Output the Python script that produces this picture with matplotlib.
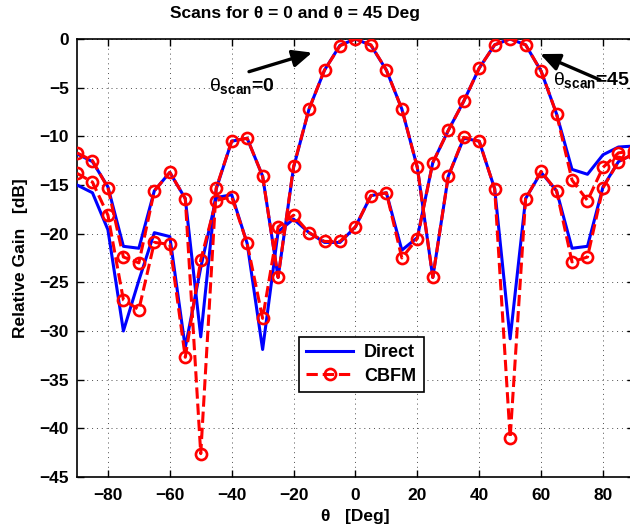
import numpy as np
import matplotlib
matplotlib.use("Agg")
import matplotlib.pyplot as plt

plt.rcParams["font.family"] = ["Liberation Sans", "DejaVu Sans"]
plt.rcParams["mathtext.fontset"] = "custom"
plt.rcParams["mathtext.rm"] = "Liberation Sans"
plt.rcParams["mathtext.it"] = "Liberation Sans"
plt.rcParams["mathtext.bf"] = "Liberation Sans:bold"

# angles in degrees, one sample every 5 deg
theta = np.arange(-90, 91, 5)

# scan at theta = 0
scan0_direct = [
    -11.8, -12.6, -15.2, -21.3, -21.5, -15.6, -13.7, -16.4, -30.6, -15.4,
    -10.5, -10.2, -14.1, -24.5, -13.2, -7.2, -3.2, -0.65, 0.0, -0.65,
    -3.2, -7.2, -13.2, -24.5, -14.1, -10.2, -10.5, -15.4, -30.8, -16.4,
    -13.7, -15.6, -21.5, -21.3, -15.2, -12.6, -11.8,
]
scan0_cbfm = [
    -11.7, -12.5, -15.3, -22.4, -23.0, -15.6, -13.7, -16.4, -42.6, -15.3,
    -10.5, -10.2, -14.1, -24.5, -13.1, -7.2, -3.2, -0.7, 0.0, -0.6,
    -3.2, -7.2, -13.2, -24.5, -14.1, -10.1, -10.5, -15.4, -41.0, -16.4,
    -13.6, -15.6, -22.9, -22.4, -15.3, -12.6, -11.8,
]

# scan at theta = 45
scan45_direct = [
    -15.0, -15.8, -19.6, -30.0, -24.8, -19.9, -20.3, -31.7, -23.5, -16.3,
    -16.0, -21.0, -31.9, -19.8, -18.5, -19.9, -20.9, -20.9, -19.3, -16.1,
    -15.8, -21.7, -20.4, -12.7, -9.4, -6.4, -3.0, -0.6, 0.0, -0.6,
    -3.3, -7.7, -13.4, -13.9, -11.9, -11.1, -11.0,
]
scan45_cbfm = [
    -13.8, -14.7, -18.1, -26.8, -27.8, -20.9, -21.1, -32.7, -22.7, -16.6,
    -16.2, -21.0, -28.7, -19.3, -18.1, -19.9, -20.8, -20.8, -19.3, -16.1,
    -15.8, -22.5, -20.5, -12.7, -9.4, -6.4, -3.0, -0.6, 0.0, -0.6,
    -3.3, -7.7, -14.5, -16.6, -13.2, -11.7, -11.5,
]

fig = plt.figure(figsize=(6.30, 5.31), dpi=100)
ax = fig.add_axes([0.1222, 0.1017, 0.884, 0.8249])

blue_kw = dict(color="#0000ff", lw=2.2, zorder=3)
red_kw = dict(color="#ff0000", lw=2.2, ls="--", marker="o", ms=8,
              mfc="none", mew=1.9, zorder=4)

ax.plot(theta, scan0_direct, label="Direct", **blue_kw)
ax.plot(theta, scan45_direct, **blue_kw)
ax.plot(theta, scan0_cbfm, label="CBFM", **red_kw)
ax.plot(theta, scan45_cbfm, **red_kw)

ax.set_xlim(-90, 90)
ax.set_ylim(-45, 0)
ax.set_xticks(np.arange(-80, 81, 20))
ax.set_yticks(np.arange(-45, 1, 5))
ax.set_xticklabels([f"\u2212{abs(v)}" if v < 0 else str(v) for v in range(-80, 81, 20)])
ax.set_yticklabels([f"\u2212{abs(v)}" if v < 0 else str(v) for v in range(-45, 1, 5)])
ax.tick_params(direction="in", length=5, width=1, top=True, right=True,
               labelsize=12.5)
ax.tick_params(axis="x", pad=8)
ax.tick_params(axis="y", pad=6)
for lab in ax.get_xticklabels() + ax.get_yticklabels():
    lab.set_fontweight("bold")
for sp in ax.spines.values():
    sp.set_linewidth(1.2)

ax.grid(True, color="0.3", lw=0.7, ls=(0, (1, 4)))
ax.set_axisbelow(True)

ax.set_title("Scans for \u03b8 = 0 and \u03b8 = 45 Deg", fontsize=12.5,
             fontweight="bold", pad=15, x=0.391)
ax.set_ylabel("Relative Gain   [dB]", fontsize=12.5, fontweight="bold", labelpad=8)
ax.set_xlabel("\u03b8   [Deg]", fontsize=12.5, fontweight="bold", labelpad=4)

# annotations
arrow_kw = dict(arrowstyle="-|>,head_length=0.9,head_width=0.4",
                color="k", lw=2.4, mutation_scale=13, shrinkA=0, shrinkB=0)
ax.annotate("", xy=(-14, -1.4), xytext=(-34.4, -3.36), arrowprops=arrow_kw)
ax.annotate("", xy=(59.7, -1.55), xytext=(79, -4.2), arrowprops=arrow_kw,
            annotation_clip=False)
ax.text(-47.4, -5.3, r"$\theta_{\mathbf{scan}}$=0", fontsize=14,
        fontweight="bold", va="baseline", ha="left")
ax.text(63.9, -4.7, r"$\theta_{\mathbf{scan}}$=45", fontsize=14,
        fontweight="bold", va="baseline", ha="left", clip_on=False)

leg = ax.legend(loc="upper left", bbox_to_anchor=(0.399, 0.3196),
                borderaxespad=0, frameon=True, fancybox=False, edgecolor="k",
                framealpha=1, borderpad=0.4, handlelength=2.6,
                handletextpad=0.6, labelspacing=0.35,
                prop={"weight": "bold", "size": 13})
leg.get_frame().set_linewidth(1.2)

fig.savefig("out.png", dpi=100)
